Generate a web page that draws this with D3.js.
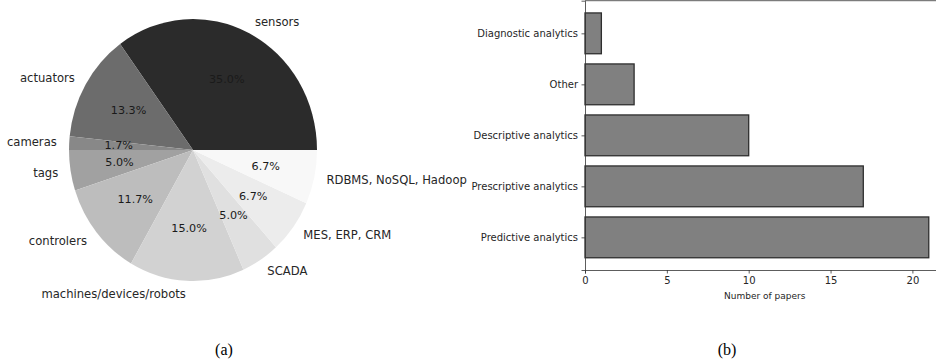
<!DOCTYPE html>
<html><head><meta charset="utf-8">
<script src="https://cdn.jsdelivr.net/npm/d3@7"></script>
<style>body{margin:0;background:#fff}svg{display:block}</style>
</head><body>
<svg id="c" width="936" height="363"></svg>
<script>
const pieLabels = ["sensors","actuators","cameras","tags","controlers","machines/devices/robots","SCADA","MES, ERP, CRM","RDBMS, NoSQL, Hadoop"];
const pieValues = [21,8,1,3,7,9,3,4,4];
const pieColors = ["#2b2b2b","#6c6c6c","#888888","#a1a1a1","#bdbdbd","#d2d2d2","#e0e0e0","#ececec","#f8f8f8"];

const barCategories = ["Predictive analytics","Prescriptive analytics","Descriptive analytics","Other","Diagnostic analytics"];
const barValues = [21,17,10,3,1];
const xTicks = [0,5,10,15,20];

const svg = d3.select("#c");
const font = "DejaVu Sans";

// ---- Pie (a)
const cx = 193, cy = 150, rx = 124, ry = 131;
const pie = d3.pie().sort(null).startAngle(Math.PI/2).endAngle(Math.PI/2 - 2*Math.PI);
const arcs = pie(pieValues);
const arc = d3.arc().innerRadius(0).outerRadius(rx);
const gp = svg.append("g").attr("transform", `translate(${cx},${cy}) scale(1,${ry/rx})`);
gp.selectAll("path").data(arcs).join("path")
  .attr("d", arc).attr("fill", (d,i)=>pieColors[i]);
const total = d3.sum(pieValues);
function pos(d,k){ const a=(d.startAngle+d.endAngle)/2; return [cx + k*rx*Math.sin(a), cy - k*ry*Math.cos(a)]; }
svg.append("g").selectAll("text").data(arcs).join("text")
  .attr("x", d=>pos(d,1.1)[0]).attr("y", d=>pos(d,1.1)[1])
  .attr("text-anchor", d=>pos(d,1.1)[0] > cx ? "start" : "end")
  .attr("dominant-baseline","central")
  .attr("font-family", font).attr("font-size", 11.6).attr("fill","#262626")
  .text((d,i)=>pieLabels[i]);
svg.append("g").selectAll("text").data(arcs).join("text")
  .attr("x", d=>pos(d,0.6)[0]).attr("y", d=>pos(d,0.6)[1])
  .attr("text-anchor","middle").attr("dominant-baseline","central")
  .attr("font-family", font).attr("font-size", 11.2).attr("fill","#1a1a1a")
  .text(d=>(d.value/total*100).toFixed(1)+"%");

// ---- Bars (b)
const x = d3.scaleLinear().domain([0, 22.05]).range([585, 585 + 22.05*16.37]);
const y = d3.scaleLinear().domain([-0.64, 4.64]).range([270, 0.7]);
const gb = svg.append("g");
gb.selectAll("rect").data(barValues).join("rect")
  .attr("x", x(0)).attr("y", (d,i)=>y(i+0.4))
  .attr("width", d=>x(d)-x(0)).attr("height", (d,i)=>y(i-0.4)-y(i+0.4))
  .attr("fill","#808080").attr("stroke","#2e2e2e").attr("stroke-width",1.3);

const xa = gb.append("g").attr("transform","translate(0,270)")
  .call(d3.axisBottom(x).tickValues(xTicks).tickSize(3.5).tickPadding(3.5));
const ya = gb.append("g").attr("transform","translate(585,0)")
  .call(d3.axisLeft(y).tickValues(d3.range(barCategories.length)).tickFormat(i=>barCategories[i]).tickSize(3.5).tickPadding(3.5));
[xa,ya].forEach(a=>{
  a.selectAll("text").attr("font-family",font).attr("font-size",10).attr("fill","#262626");
  a.selectAll("line").attr("stroke","#333").attr("stroke-width",0.8);
  a.select(".domain").attr("stroke","#333").attr("stroke-width",0.8);
});
// top spine
gb.append("line").attr("x1",585).attr("x2",x(22.05)).attr("y1",0.7).attr("y2",0.7)
  .attr("stroke","#333").attr("stroke-width",0.8);
gb.append("text").attr("x",764.7).attr("y",296).attr("text-anchor","middle")
  .attr("dominant-baseline","central").attr("font-family",font).attr("font-size",9)
  .attr("fill","#262626").text("Number of papers");

// ---- Captions
svg.append("text").attr("x",224).attr("y",355).attr("text-anchor","middle")
  .attr("font-family","Liberation Serif").attr("font-size",16).text("(a)");
svg.append("text").attr("x",727).attr("y",355).attr("text-anchor","middle")
  .attr("font-family","Liberation Serif").attr("font-size",16).text("(b)");
</script>
</body></html>
